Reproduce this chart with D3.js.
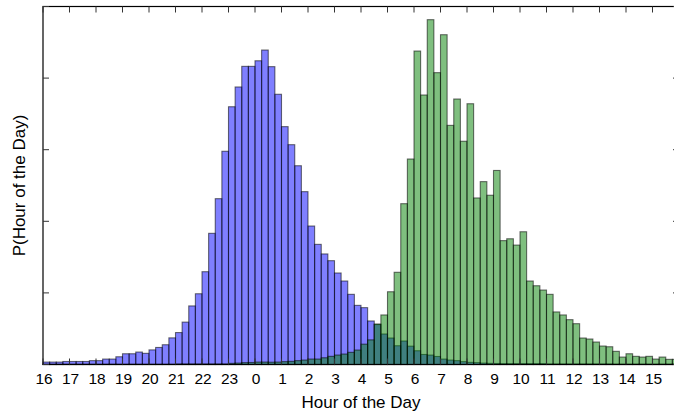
<!DOCTYPE html>
<html>
<head>
<meta charset="utf-8">
<script src="https://cdn.jsdelivr.net/npm/d3@7"></script>
<style>
  body { margin: 0; background: #fff; }
  text { font-family: "Liberation Sans", Arial, sans-serif; }
</style>
</head>
<body>
<div id="chart"></div>
<script>
// quarter-hour bins starting at 16:00
const binStart = 16;
const binWidth = 0.25;

const blueValues = [
  0.0017, 0.0017, 0.0017, 0.0021, 0.0021, 0.0021, 0.0021, 0.0027,
  0.0027, 0.0038, 0.0038, 0.0054, 0.0075, 0.0075, 0.0087, 0.0078,
  0.0102, 0.0119, 0.0138, 0.0186, 0.0223, 0.0296, 0.0409, 0.0494,
  0.0648, 0.0916, 0.1158, 0.1489, 0.1800, 0.1938, 0.2082, 0.2082,
  0.2121, 0.2196, 0.2080, 0.1887, 0.1661, 0.1535, 0.1388, 0.1207,
  0.0967, 0.0839, 0.0772, 0.0725, 0.0639, 0.0583, 0.0490, 0.0413,
  0.0397, 0.0304, 0.0279, 0.0213, 0.0185, 0.0131, 0.0164, 0.0128,
  0.0096, 0.0070, 0.0066, 0.0056, 0.0038, 0.0031, 0.0027, 0.0020,
  0.0015, 0.0013, 0.0010, 0.0008, 0.0007, 0.0006, 0.0006, 0.0006,
  0.0006, 0.0006, 0.0006, 0.0006, 0.0004, 0.0004, 0.0004, 0.0004,
  0.0004, 0.0004, 0.0004, 0.0004, 0.0004, 0.0004, 0.0003, 0.0003,
  0.0003, 0.0003, 0.0003, 0.0003, 0.0003, 0.0003, 0.0003, 0.0003
];

const greenValues = [
  0.0002, 0.0002, 0.0002, 0.0002, 0.0002, 0.0002, 0.0002, 0.0002,
  0.0002, 0.0002, 0.0002, 0.0002, 0.0002, 0.0002, 0.0002, 0.0002,
  0.0002, 0.0002, 0.0002, 0.0002, 0.0004, 0.0004, 0.0004, 0.0004,
  0.0004, 0.0004, 0.0004, 0.0004, 0.0008, 0.0010, 0.0013, 0.0014,
  0.0017, 0.0017, 0.0016, 0.0017, 0.0020, 0.0022, 0.0027, 0.0031,
  0.0038, 0.0038, 0.0047, 0.0057, 0.0066, 0.0073, 0.0085, 0.0101,
  0.0142, 0.0172, 0.0283, 0.0346, 0.0508, 0.0644, 0.1123, 0.1435,
  0.2189, 0.1882, 0.2408, 0.2038, 0.2303, 0.1670, 0.1854, 0.1559,
  0.1821, 0.1163, 0.1277, 0.1182, 0.1355, 0.0865, 0.0878, 0.0834,
  0.0927, 0.0583, 0.0550, 0.0520, 0.0490, 0.0367, 0.0346, 0.0313,
  0.0285, 0.0185, 0.0178, 0.0157, 0.0129, 0.0124, 0.0092, 0.0052,
  0.0075, 0.0057, 0.0052, 0.0057, 0.0038, 0.0052, 0.0036, 0.0036
];

const hourTicks = [16, 17, 18, 19, 20, 21, 22, 23, 24, 25, 26, 27,
                   28, 29, 30, 31, 32, 33, 34, 35, 36, 37, 38, 39];
const hourLabels = ["16", "17", "18", "19", "20", "21", "22", "23", "0", "1", "2", "3",
                    "4", "5", "6", "7", "8", "9", "10", "11", "12", "13", "14", "15"];
const yTicks = [0, 0.05, 0.1, 0.15, 0.2, 0.25];

const width = 674, height = 417;
const margin = {top: 6.5, right: -5, bottom: 52.5, left: 43};

const svg = d3.select("#chart")
  .append("svg")
  .attr("width", width)
  .attr("height", height);

const x = d3.scaleLinear()
  .domain([16, 40])
  .range([margin.left, width - margin.right]);

const y = d3.scaleLinear()
  .domain([0, 0.25])
  .range([height - margin.bottom, margin.top]);

function drawBars(values, colour) {
  svg.append("g")
    .selectAll("rect")
    .data(values)
    .enter()
    .append("rect")
    .attr("x", function(d, i) { return x(binStart + i * binWidth); })
    .attr("width", function(d, i) { return x(binStart + (i + 1) * binWidth) - x(binStart + i * binWidth); })
    .attr("y", function(d) { return y(d); })
    .attr("height", function(d) { return y(0) - y(d); })
    .style("fill", colour)
    .style("fill-opacity", 0.5)
    .style("stroke", "#000")
    .style("stroke-opacity", 0.55)
    .style("stroke-width", 1.1);
}

drawBars(blueValues, "#0000ff");
drawBars(greenValues, "#008000");

// frame
const x0 = x.range()[0], x1 = x.range()[1];
const y0 = y.range()[0], y1 = y.range()[1];
svg.append("rect")
  .attr("x", x0).attr("y", y1)
  .attr("width", x1 - x0).attr("height", y0 - y1)
  .style("fill", "none")
  .style("stroke", "#000")
  .style("stroke-width", 1.2);

// inward ticks, like the original
const tickLen = 6;
const ticks = svg.append("g").style("stroke", "#333").style("stroke-width", 1);
hourTicks.forEach(function(h) {
  ticks.append("line").attr("x1", x(h)).attr("x2", x(h)).attr("y1", y0).attr("y2", y0 - tickLen);
  ticks.append("line").attr("x1", x(h)).attr("x2", x(h)).attr("y1", y1).attr("y2", y1 + tickLen);
});
yTicks.forEach(function(v) {
  ticks.append("line").attr("x1", x0).attr("x2", x0 + tickLen).attr("y1", y(v)).attr("y2", y(v));
  ticks.append("line").attr("x1", x1).attr("x2", x1 - tickLen).attr("y1", y(v)).attr("y2", y(v));
});

svg.append("g")
  .selectAll("text")
  .data(hourTicks)
  .enter()
  .append("text")
  .attr("x", function(d) { return x(d) + 1; })
  .attr("y", y0 + 19)
  .attr("text-anchor", "middle")
  .style("font-size", "15.5px")
  .style("fill", "#000")
  .text(function(d, i) { return hourLabels[i]; });

svg.append("text")
  .attr("x", (x0 + x1) / 2)
  .attr("y", 408)
  .attr("text-anchor", "middle")
  .style("font-size", "17px")
  .text("Hour of the Day");

svg.append("text")
  .attr("transform", `translate(25, ${(y0 + y1) / 2}) rotate(-90)`)
  .attr("text-anchor", "middle")
  .style("font-size", "17px")
  .text("P(Hour of the Day)");
</script>
</body>
</html>
